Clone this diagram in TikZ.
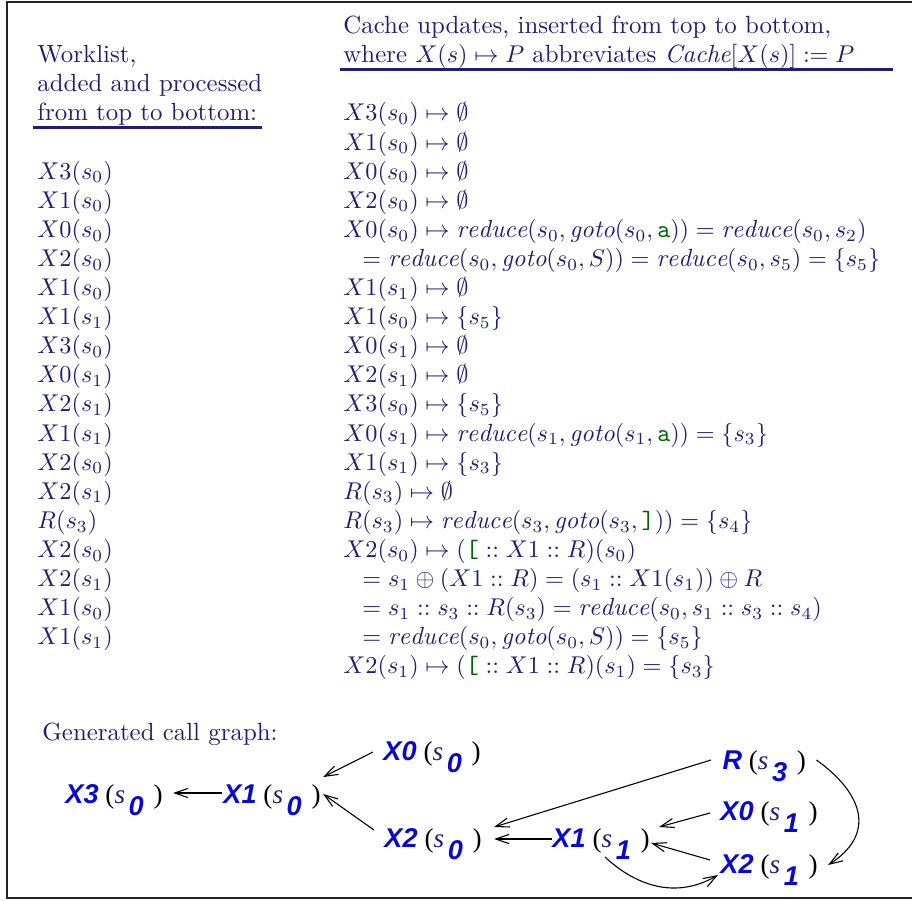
\documentclass[tikz,border=0pt]{standalone}
\usepackage{fontspec}
\newfontfamily\cgsans{Liberation Sans}
\newfontfamily\cgserif{Liberation Serif}
\usetikzlibrary{arrows.meta,calc}
\definecolor{navy}{RGB}{30,30,115}
\definecolor{cgblue}{RGB}{10,10,205}
\definecolor{tgreen}{RGB}{0,100,0}
\definecolor{framecol}{RGB}{35,35,35}
\newcommand\rdc{\mathit{reduce}}
\newcommand\gto{\mathit{goto}}
\newcommand\gA{\mbox{\color{tgreen}\ttfamily a}}
\newcommand\gB{\mbox{\color{tgreen}\ttfamily [}}
\newcommand\gC{\mbox{\color{tgreen}\ttfamily ]}}
\newcommand\cc{\mathrel{::}}
\newcommand\cgn[1]{{\cgsans\bfseries\itshape\color{cgblue}#1}}
\newcommand\cgnode[2]{\cgn{#1}\hspace{2.8pt}{\cgserif(}{\cgserif\itshape\color{navy}s}\hspace{1.5pt}\raisebox{-5pt}{\cgn{#2}}\hspace{4pt}{\cgserif)}}
\tikzset{
  rowtext/.style={anchor=base west, inner sep=0pt, text=navy, font=\fontsize{10.25}{12}\selectfont},
  cgbox/.style={anchor=base west, inner sep=0pt, font=\fontsize{11.2}{13}\selectfont},
  cgarrow/.style={line width=0.45pt, -{Straight Barb[length=5.5pt,width=3.8pt]}},
  rulestyle/.style={navy, line width=1pt},
}
\begin{document}
\begin{tikzpicture}[x=0.4124pt, y=-0.4124pt]
\useasboundingbox (0,0) rectangle (912,901);
% frame (open to the right)
\draw[framecol, line width=0.9pt] (930,2) -- (7,2) -- (7,898) -- (930,898);

% headers
\node[rowtext] (hc1) at (343,33.7) {Cache updates, inserted from top to bottom,};
\node[rowtext] (hc2) at (343,62.8) {where $X(s)\mapsto P$ abbreviates $\mathit{Cache}[X(s)] := P$};
\draw[rulestyle] (340,69.5) -- (893,69.5);
\node[rowtext] (hw1) at (37,62.8) {Worklist,};
\node[rowtext] (hw2) at (37,91.9) {added and processed};
\node[rowtext] (hw3) at (37,121) {from top to bottom:};
\draw[rulestyle] (33,127.5) -- (262,127.5);

% worklist
\foreach \t [count=\i from 2] in {X3(s_0),X1(s_0),X0(s_0),X2(s_0),X1(s_0),X1(s_1),X3(s_0),X0(s_1),X2(s_1),X1(s_1),X2(s_0),X2(s_1),R(s_3),X2(s_0),X2(s_1),X1(s_0),X1(s_1)}
  \node[rowtext] (w\i) at (37,{121+29.1*\i}) {$\t$};

% cache updates
\node[rowtext] (c0) at (343,121) {$X3(s_0)\mapsto\emptyset$};
\node[rowtext] (c1) at (343,150.1) {$X1(s_0)\mapsto\emptyset$};
\node[rowtext] (c2) at (343,179.2) {$X0(s_0)\mapsto\emptyset$};
\node[rowtext] (c3) at (343,208.3) {$X2(s_0)\mapsto\emptyset$};
\node[rowtext] (c4) at (343,237.4) {$X0(s_0)\mapsto\rdc(s_0,\gto(s_0,\gA))=\rdc(s_0,s_2)$};
\node[rowtext] (c5) at (362,266.5) {$=\rdc(s_0,\gto(s_0,S))=\rdc(s_0,s_5)=\{s_5\}$};
\node[rowtext] (c6) at (343,295.6) {$X1(s_1)\mapsto\emptyset$};
\node[rowtext] (c7) at (343,324.7) {$X1(s_0)\mapsto\{s_5\}$};
\node[rowtext] (c8) at (343,353.8) {$X0(s_1)\mapsto\emptyset$};
\node[rowtext] (c9) at (343,382.9) {$X2(s_1)\mapsto\emptyset$};
\node[rowtext] (c10) at (343,412) {$X3(s_0)\mapsto\{s_5\}$};
\node[rowtext] (c11) at (343,441.1) {$X0(s_1)\mapsto\rdc(s_1,\gto(s_1,\gA))=\{s_3\}$};
\node[rowtext] (c12) at (343,470.2) {$X1(s_1)\mapsto\{s_3\}$};
\node[rowtext] (c13) at (343,499.3) {$R(s_3)\mapsto\emptyset$};
\node[rowtext] (c14) at (343,528.4) {$R(s_3)\mapsto\rdc(s_3,\gto(s_3,\gC))=\{s_4\}$};
\node[rowtext] (c15) at (343,557.5) {$X2(s_0)\mapsto(\gB\cc X1\cc R)(s_0)$};
\node[rowtext] (c16) at (362,586.6) {$=s_1\oplus(X1\cc R)=(s_1\cc X1(s_1))\oplus R$};
\node[rowtext] (c17) at (362,615.7) {$=s_1\cc s_3\cc R(s_3)=\rdc(s_0,s_1\cc s_3\cc s_4)$};
\node[rowtext] (c18) at (362,644.8) {$=\rdc(s_0,\gto(s_0,S))=\{s_5\}$};
\node[rowtext] (c19) at (343,673.9) {$X2(s_1)\mapsto(\gB\cc X1\cc R)(s_1)=\{s_3\}$};

% call graph
\node[rowtext] (cgt) at (42,740) {Generated call graph:};
\node[cgbox] (X3s0) at (65,803) {\cgnode{X3}{0}};
\node[cgbox] (X1s0) at (223,803) {\cgnode{X1}{0}};
\node[cgbox] (X0s0) at (383,760) {\cgnode{X0}{0}};
\node[cgbox] (X2s0) at (384,847) {\cgnode{X2}{0}};
\node[cgbox] (Rs3) at (722,769) {\cgnode{R}{3}};
\node[cgbox] (X0s1) at (720,820) {\cgnode{X0}{1}};
\node[cgbox] (X1s1) at (552,847) {\cgnode{X1}{1}};
\node[cgbox] (X2s1) at (720,873) {\cgnode{X2}{1}};

\draw[cgarrow] ($(X1s0.base west)+(-1,-10)$) -- ($(X3s0.base east)+(10,-10)$);
\draw[cgarrow] ($(X0s0.base west)+(-10,-8)$) -- ($(X1s0.base east)+(2,-26)$);
\draw[cgarrow] ($(X2s0.base west)+(-10,-17)$) -- ($(X1s0.base east)+(2,-9)$);
\draw[cgarrow] ($(Rs3.base west)+(-11,-9)$) -- ($(X2s0.base east)+(12,-20)$);
\draw[cgarrow] ($(X1s1.base west)+(0,-8)$) -- ($(X2s0.base east)+(12,-8)$);
\draw[cgarrow] ($(X0s1.base west)+(-10,-7)$) -- ($(X1s1.base east)+(9,-20)$);
\draw[cgarrow] ($(X2s1.base west)+(-10,-13)$) -- ($(X1s1.base east)+(1,-4)$);
\coordinate (k1a) at ($(X1s1.base west)+(53,10)$);
\coordinate (k1b) at ($(X2s1.base west)+(-2,2)$);
\draw[cgarrow] (k1a) .. controls (635,885) and (675,900) .. (k1b);
\coordinate (k2a) at ($(Rs3.base east)+(10,-9)$);
\coordinate (k2b) at ($(X2s1.base east)+(10,-8)$);
\draw[cgarrow] (k2a) .. controls (865,795) and (875,835) .. (k2b);
\end{tikzpicture}
\end{document}
